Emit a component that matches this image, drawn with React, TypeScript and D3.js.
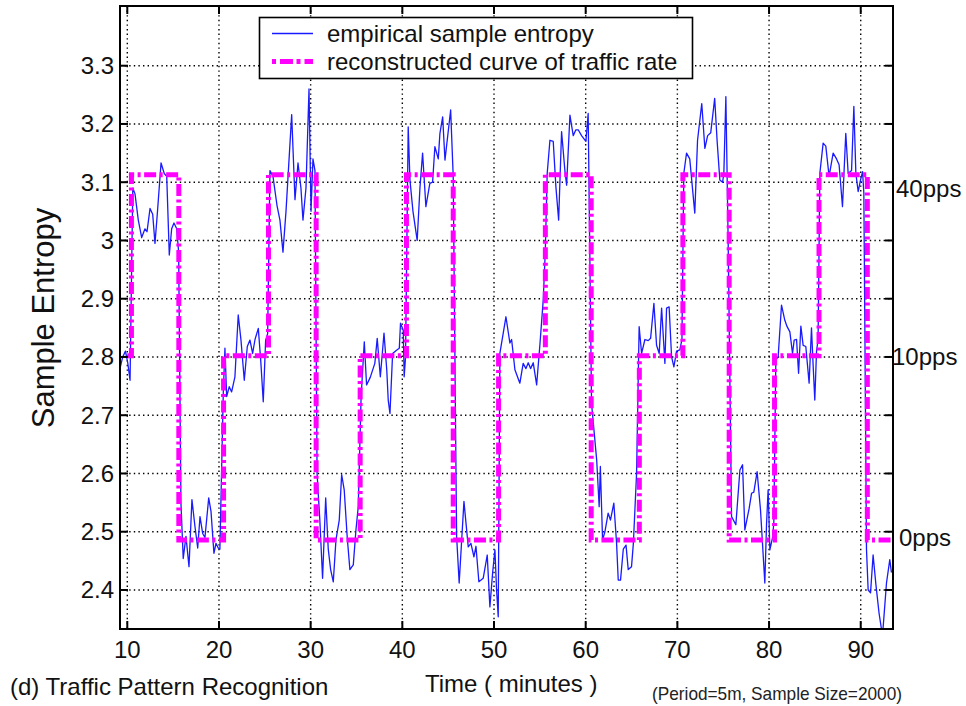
import React from "react";
import * as d3 from "d3";

// ---------- data ----------
const xTicks = [10, 20, 30, 40, 50, 60, 70, 80, 90];
const yTicks = [2.4, 2.5, 2.6, 2.7, 2.8, 2.9, 3.0, 3.1, 3.2, 3.3];

const sampleTime = [
  9.2, 9.5, 9.8, 10.05, 10.3, 10.6, 10.84, 11.2, 11.57, 11.93, 12.15, 12.48, 12.77, 13.02, 13.27, 13.68, 14.03, 14.3, 14.58, 14.84, 15.09, 15.39, 15.6,
  15.85, 16.1, 16.4, 16.73, 17.05, 17.38, 17.68, 17.93, 18.22, 18.47, 18.88, 19.13, 19.45, 19.67, 19.92, 20.1,
  20.47, 20.65, 20.84, 21.12, 21.38, 21.74, 22.1, 22.4, 22.76, 23.09, 23.38, 23.67, 23.93, 24.29, 24.55, 24.83, 25.09, 25.31,
  25.56, 25.89, 26.33, 26.65, 26.98, 27.31, 27.93, 28.29, 28.62, 28.94, 29.16, 29.49, 29.82, 30.04, 30.25, 30.47,
  30.7, 31.0, 31.3, 31.64, 31.92, 32.18, 32.47, 32.76, 33.12, 33.38, 33.66, 33.99, 34.28, 34.65, 34.94, 35.19,
  35.5, 35.85, 36.1, 36.5, 37.0, 37.26, 37.6, 38.0, 38.3, 38.46, 38.65, 38.94, 39.4, 39.67, 39.8, 40.1, 40.2, 40.35,
  40.64, 40.83, 41.16, 41.62, 41.92, 42.21, 42.57, 43.0, 43.3, 43.55, 43.92, 44.1, 44.4, 44.65, 45.27, 45.55,
  45.92, 46.2, 46.72, 47.19, 47.48, 47.81, 48.03, 48.35, 48.82, 49.26, 49.55, 49.85, 50.1, 50.28, 50.46,
  50.64, 51.3, 51.73, 51.92, 52.28, 52.82, 53.18, 53.48, 53.73, 53.99, 54.28, 54.65, 55.0, 55.37, 55.6,
  55.8, 56.1, 56.46, 56.75, 57.05, 57.37, 57.73, 57.92, 58.28, 58.64, 58.93, 59.18, 59.55, 60.02, 60.27,
  60.64, 61.2, 61.47, 61.6, 61.84, 62.1, 62.45, 62.7, 63.07, 63.37, 63.55, 63.8, 64.1, 64.4, 64.64, 65.0, 65.2, 65.55,
  65.83, 66.1, 66.46, 66.82, 67.08, 67.44, 67.73, 68.02, 68.28, 68.64, 68.82, 69.1, 69.37, 69.62, 69.91, 70.27, 70.5,
  70.7, 71.0, 71.35, 71.9, 72.2, 72.66, 73.0, 73.3, 73.64, 74.07, 74.34, 74.63, 74.93, 75.07, 75.29, 75.54,
  75.91, 76.38, 76.82, 77.11, 77.36, 77.83, 78.09, 78.34, 78.7, 79.07, 79.54, 79.73, 79.9, 80.09, 80.38, 80.52,
  80.74, 80.99, 81.36, 81.72, 81.97, 82.27, 82.56, 82.74, 83.0, 83.22, 83.47, 83.72, 84.01, 84.37, 84.63, 84.81, 84.99, 85.18, 85.35,
  85.54, 85.9, 86.19, 86.55, 86.99, 87.36, 87.64, 88.01, 88.37, 88.63, 89.0, 89.25, 89.47, 89.72, 89.98, 90.2, 90.34,
  90.63, 90.81, 91.07, 91.35, 91.65, 92.0, 92.27, 92.44, 92.81, 93.17, 93.35,
];

const sampleEntropy = [
  2.78, 2.8, 2.81, 2.79, 2.76, 3.09, 3.08, 3.035, 3.005, 3.02, 3.015, 3.055, 3.045, 2.995, 3.045, 3.133, 3.115, 3.11, 2.975, 3.02, 3.03, 3.02, 2.98,
  2.55, 2.454, 2.492, 2.44, 2.555, 2.509, 2.472, 2.526, 2.497, 2.49, 2.558, 2.535, 2.463, 2.48, 2.472, 2.47,
  2.738, 2.815, 2.732, 2.749, 2.74, 2.766, 2.872, 2.829, 2.76, 2.818, 2.829, 2.806, 2.83, 2.849, 2.795, 2.723, 2.829, 2.84,
  3.12, 3.11, 3.06, 3.035, 2.98, 3.05, 3.216, 3.07, 3.133, 3.09, 3.035, 3.09, 3.26, 3.05, 3.14, 3.12,
  2.6, 2.52, 2.42, 2.558, 2.47, 2.435, 2.414, 2.486, 2.52, 2.598, 2.572, 2.49, 2.435, 2.443, 2.503, 2.543,
  2.73, 2.826, 2.752, 2.765, 2.789, 2.832, 2.766, 2.841, 2.778, 2.726, 2.703, 2.806, 2.812, 2.815, 2.858, 2.846, 2.766, 2.8,
  3.195, 3.104, 3.05, 3.0, 3.09, 3.15, 3.058, 3.098, 3.1, 3.161, 3.14, 3.184, 3.212, 3.138, 3.224, 3.11,
  2.492, 2.412, 2.552, 2.474, 2.48, 2.457, 2.475, 2.414, 2.42, 2.46, 2.371, 2.43, 2.469, 2.4, 2.354,
  2.806, 2.869, 2.824, 2.83, 2.778, 2.755, 2.789, 2.78, 2.79, 2.78, 2.79, 2.752, 2.82, 2.898, 2.984,
  3.115, 3.172, 3.17, 3.092, 3.035, 3.187, 3.12, 3.095, 3.215, 3.18, 3.19, 3.19, 3.18, 3.17, 3.218,
  2.72, 2.623, 2.543, 2.612, 2.486, 2.5, 2.532, 2.52, 2.549, 2.48, 2.417, 2.417, 2.47, 2.477, 2.435, 2.44, 2.48, 2.6,
  2.852, 2.806, 2.83, 2.828, 2.832, 2.892, 2.82, 2.806, 2.884, 2.789, 2.884, 2.886, 2.8, 2.783, 2.81, 2.812, 2.83,
  3.115, 3.15, 3.14, 3.047, 3.172, 3.235, 3.158, 3.18, 3.185, 3.244, 3.17, 3.104, 3.1, 3.115, 3.247, 3.0,
  2.526, 2.512, 2.606, 2.615, 2.503, 2.54, 2.566, 2.568, 2.603, 2.537, 2.412, 2.515, 2.572, 2.469, 2.49, 2.515,
  2.795, 2.8, 2.889, 2.863, 2.852, 2.843, 2.806, 2.829, 2.83, 2.772, 2.853, 2.82, 2.818, 2.755, 2.85, 2.785, 2.726, 2.81, 2.83,
  3.115, 3.167, 3.162, 3.11, 3.15, 3.14, 3.13, 3.058, 3.184, 3.115, 3.12, 3.23, 3.115, 3.084, 3.104, 3.118, 3.081,
  2.469, 2.4, 2.395, 2.46, 2.41, 2.36, 2.332, 2.335, 2.412, 2.452, 2.43,
];

const stepStart = [10.0, 10.45, 15.62, 20.5, 25.4, 30.6, 35.4, 40.45, 45.55, 50.5, 55.6, 60.6, 65.85, 70.6, 75.65, 80.6, 85.45, 90.72];
const stepLevel = [2.802, 3.113, 2.486, 2.802, 3.113, 2.486, 2.802, 3.113, 2.486, 2.802, 3.113, 2.486, 2.802, 3.113, 2.486, 2.802, 3.113, 2.486];
const stepEnd = 93.52;

const rateLabels = ["40pps", "10pps", "0pps"];
const rateLabelY = [3.09, 2.801, 2.49];
const rateLabelX = [896, 892, 899];

// ---------- layout ----------
const W = 966;
const H = 706;
const L = 120, R = 893, T = 6, B = 629;
const FONT = "'Liberation Sans', Arial, Helvetica, sans-serif";

export default function App() {
  const x = d3.scaleLinear().domain([9.204, 93.52]).range([L, R]);
  const y = d3.scaleLinear().domain([2.333, 3.4025]).range([B, T]);

  const entropyPts = sampleTime.map((t, i) => [t, sampleEntropy[i]] as [number, number]);
  const linePath = d3
    .line<[number, number]>()
    .x((d) => x(d[0]))
    .y((d) => y(d[1]))(entropyPts);

  const stepPts = stepStart.map((t, i) => [t, stepLevel[i]] as [number, number]);
  stepPts.push([stepEnd, stepLevel[stepLevel.length - 1]]);
  const stepPath = d3
    .line<[number, number]>()
    .x((d) => x(d[0]))
    .y((d) => y(d[1]))
    .curve(d3.curveStepAfter)(stepPts);

  const gridStyle = { stroke: "#000", strokeWidth: 1.4, strokeDasharray: "1.4,3.2" };
  const tickLen = 8;
  const magenta = "#ff00ff";
  const blue = "#1a1aff";
  const dash = "12,3.5,3,3.5";

  return (
    <svg
      width={W}
      height={H}
      style={{ position: "absolute", left: 0, top: 0, background: "#fff" }}
      fontFamily={FONT}
    >
      <defs>
        <clipPath id="plotClip">
          <rect x={L} y={T} width={R - L} height={B - T} />
        </clipPath>
      </defs>
      <rect x={0} y={0} width={W} height={H} fill="#fff" />

      {/* grid */}
      {xTicks.map((t) => (
        <line key={"gx" + t} x1={x(t)} x2={x(t)} y1={T} y2={B} {...gridStyle} />
      ))}
      {yTicks.map((t) => (
        <line key={"gy" + t} x1={L} x2={R} y1={y(t)} y2={y(t)} {...gridStyle} />
      ))}

      {/* data */}
      <g clipPath="url(#plotClip)">
        <path d={linePath || ""} fill="none" stroke={blue} strokeWidth={1.3} strokeLinejoin="round" />
        <path d={stepPath || ""} fill="none" stroke={magenta} strokeWidth={5} strokeDasharray={dash} />
      </g>

      {/* frame */}
      <rect x={L} y={T} width={R - L} height={B - T} fill="none" stroke="#000" strokeWidth={2} />

      {/* ticks */}
      {xTicks.map((t) => (
        <g key={"tx" + t}>
          <line x1={x(t)} x2={x(t)} y1={B} y2={B - tickLen} stroke="#000" strokeWidth={2} />
          <line x1={x(t)} x2={x(t)} y1={T} y2={T + tickLen} stroke="#000" strokeWidth={2} />
          <text x={x(t)} y={658} fontSize={24} textAnchor="middle" fill="#111">
            {t}
          </text>
        </g>
      ))}
      {yTicks.map((t) => (
        <g key={"ty" + t}>
          <line x1={L} x2={L + tickLen} y1={y(t)} y2={y(t)} stroke="#000" strokeWidth={2} />
          <line x1={R} x2={R - tickLen} y1={y(t)} y2={y(t)} stroke="#000" strokeWidth={2} />
          <text x={114} y={y(t) + 8.5} fontSize={24} textAnchor="end" fill="#111">
            {d3.format("")(t)}
          </text>
        </g>
      ))}

      {/* right labels */}
      {rateLabels.map((s, i) => (
        <text key={s} x={rateLabelX[i]} y={y(rateLabelY[i]) + 8.5} fontSize={24} fill="#111">
          {s}
        </text>
      ))}

      {/* legend */}
      <rect x={259.5} y={17.5} width={433} height={61} fill="#fff" stroke="#000" strokeWidth={1.6} />
      <line x1={272} x2={313} y1={33.5} y2={33.5} stroke={blue} strokeWidth={1.5} />
      <text x={327} y={42} fontSize={24} fill="#111">
        empirical sample entropy
      </text>
      <line x1={272} x2={313} y1={61.5} y2={61.5} stroke={magenta} strokeWidth={5} strokeDasharray="4,4,13,3.5" />
      <text x={327} y={70} fontSize={24} fill="#111">
        reconstructed curve of traffic rate
      </text>

      {/* axis labels */}
      <text
        transform="translate(54,318) rotate(-90)"
        fontSize={31}
        textAnchor="middle"
        fill="#111"
      >
        Sample Entropy
      </text>
      <text x={425} y={692} fontSize={24} fill="#111">
        Time ( minutes )
      </text>
      <text x={10} y={695} fontSize={24} fill="#111">
        (d) Traffic Pattern Recognition
      </text>
      <text x={652} y={700} fontSize={19} fill="#222" textLength={250} lengthAdjust="spacingAndGlyphs">
        (Period=5m, Sample Size=2000)
      </text>
    </svg>
  );
}
